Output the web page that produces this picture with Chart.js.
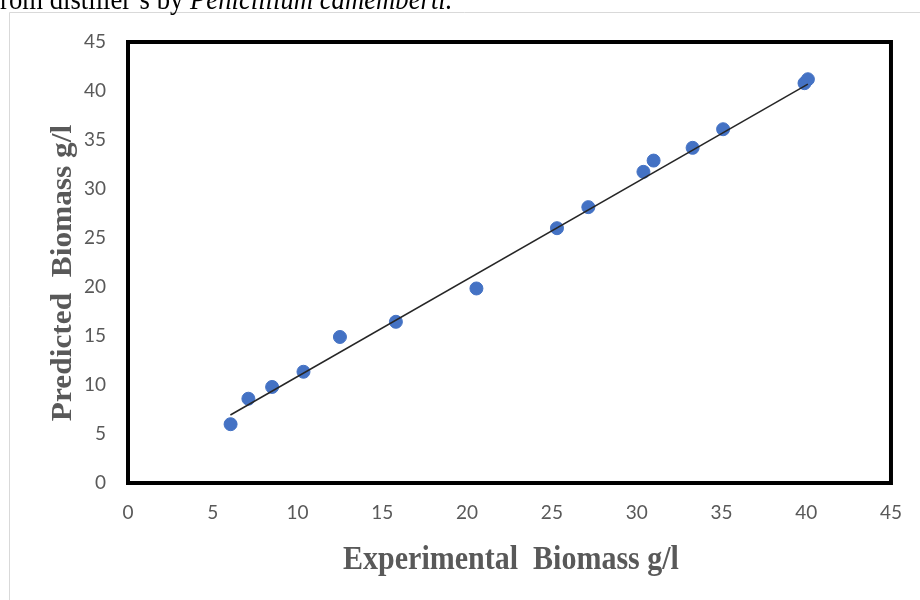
<!DOCTYPE html>
<html>
<head>
<meta charset="utf-8">
<script src="https://cdn.jsdelivr.net/npm/chart.js@4.4.1/dist/chart.umd.min.js"></script>
<style>
  body { margin: 0; background: #fff; }
  #wrap { position: relative; width: 920px; height: 600px; overflow: hidden; }
  #myChart { position: absolute; left: 0; top: 0; }
  #cap {
    position: absolute; left: 0; top: -13px;
    font: 26.7px/26px "Liberation Serif", serif; color: #000; white-space: nowrap;
    transform: scaleY(1.13); transform-origin: 0 22px;
  }
</style>
</head>
<body>
<div id="wrap">
  <canvas id="myChart" width="920" height="600"></canvas>
  <div id="cap">rom distiller’s by <i>Penicillium camemberti.</i></div>
</div>
<script>
// experimental vs predicted biomass (g/l)
const experimental = [6.05, 7.1, 8.5, 10.35, 12.5, 15.8, 20.55, 25.3, 27.15, 30.4, 31.0, 33.3, 35.1, 39.9, 40.1];
const predicted = [6.0, 8.6, 9.8, 11.35, 14.9, 16.45, 19.85, 26.0, 28.15, 31.75, 32.9, 34.2, 36.1, 40.8, 41.2];
// trendline ends
const trendX = [6.04, 40.1];
const trendY = [6.94, 40.7];
const axisMin = 0;
const axisMax = 45;
const axisStep = 5;

const xTitle = "Experimental  Biomass g/l";
const yTitle = "Predicted  Biomass g/l";

const points = experimental.map((x, i) => ({ x: x, y: predicted[i] }));
const trend = trendX.map((x, i) => ({ x: x, y: trendY[i] }));

const decor = {
  id: "decor",
  beforeDraw(chart) {
    const ctx = chart.ctx;
    ctx.save();
    ctx.strokeStyle = "#d9d9d9";
    ctx.lineWidth = 1;
    ctx.beginPath();
    ctx.moveTo(9.5, 600);
    ctx.lineTo(9.5, 12.5);
    ctx.lineTo(920, 12.5);
    ctx.stroke();
    ctx.restore();
  },
  beforeDatasetsDraw(chart) {
    const a = chart.chartArea, ctx = chart.ctx;
    ctx.save();
    ctx.strokeStyle = "#000";
    ctx.lineWidth = 4;
    ctx.strokeRect(a.left, a.top, a.right - a.left, a.bottom - a.top);
    ctx.restore();
  },
  afterDraw(chart) {
    const ctx = chart.ctx;
    ctx.save();
    ctx.fillStyle = "#595959";
    ctx.font = "bold 30px 'Liberation Serif'";
    ctx.textAlign = "center";
    ctx.textBaseline = "alphabetic";
    ctx.translate(511, 569);
    ctx.scale(1, 1.13);
    ctx.fillText(xTitle, 0, 0);
    ctx.restore();

    ctx.save();
    ctx.fillStyle = "#595959";
    ctx.font = "bold 30px 'Liberation Serif'";
    ctx.textAlign = "center";
    ctx.textBaseline = "alphabetic";
    ctx.translate(71, 273);
    ctx.scale(1, 1.045);
    ctx.rotate(-Math.PI / 2);
    ctx.fillText(yTitle, 0, 0);
    ctx.restore();
  }
};

const tickFont = { family: "Lato", size: 19 };

const config = {
  data: {
    datasets: [
      {
        type: "line",
        data: trend,
        borderColor: "#262626",
        borderWidth: 1.5,
        pointRadius: 0,
        order: 0
      },
      {
        type: "scatter",
        data: points,
        backgroundColor: "#4472C4",
        borderColor: "#4472C4",
        pointRadius: 6.5,
        order: 1
      }
    ]
  },
  options: {
    responsive: false,
    animation: false,
    layout: { padding: { left: 10, top: 42, right: 27, bottom: 0 } },
    plugins: { legend: { display: false }, tooltip: { enabled: false } },
    scales: {
      x: {
        type: "linear",
        min: axisMin, max: axisMax,
        grid: { display: false, drawTicks: false },
        border: { display: false },
        ticks: { stepSize: axisStep, color: "#595959", font: tickFont, padding: 18 },
        afterFit: (s) => { s.height = 117; }
      },
      y: {
        type: "linear",
        min: axisMin, max: axisMax,
        grid: { display: false, drawTicks: false },
        border: { display: false },
        ticks: { stepSize: axisStep, color: "#595959", font: tickFont, padding: 22 },
        afterFit: (s) => { s.width = 118; }
      }
    }
  },
  plugins: [decor]
};

const myChart = new Chart(document.getElementById("myChart"), config);
</script>
</body>
</html>
